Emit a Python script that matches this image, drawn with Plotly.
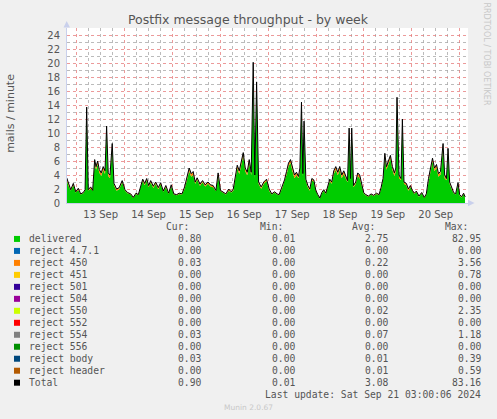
import pandas as pd
import plotly.graph_objects as go

# ---------------- data ----------------
START = "2024-09-13 00:00"
hours = [-5.0, -4.2, -3.0, -1.7, -0.5, 0.8, 2.0, 3.3, 4.2, 5.0, 5.8, 7.0, 8.0, 9.0, 9.7, 10.5, 11.3, 12.3, 13.3, 14.2,
         15.0, 15.8, 16.7, 17.8, 18.7, 20.0, 21.3, 22.8, 24.2, 25.5, 27.1, 28.4, 29.7, 30.9, 32.1, 33.1, 34.1, 35.1, 36.1, 37.1,
         38.4, 39.6, 40.9, 42.1, 43.4, 44.7, 46.1, 47.4, 48.7, 50.1, 51.4, 52.8, 54.1, 55.4, 56.4, 57.4, 58.4, 59.4, 60.4, 61.8,
         63.1, 64.4, 65.8, 67.1, 68.4, 69.8, 70.9, 72.1, 73.4, 74.8, 76.2, 77.5, 78.5, 79.5, 80.5, 81.5, 82.5, 83.5, 84.5, 85.5,
         86.5, 87.5, 88.5, 89.3, 90.2, 91.2, 92.5, 93.8, 95.2, 96.5, 97.8, 99.2, 100.5, 101.5, 102.9, 104.2, 105.2, 106.2, 107.2, 108.2,
         109.2, 110.2, 111.2, 111.9, 112.7, 113.4, 114.0, 114.9, 115.9, 116.9, 117.9, 118.9, 119.9, 120.9, 121.9, 122.9, 123.9, 124.9, 125.9, 126.9,
         127.9, 128.9, 129.9, 130.9, 131.9, 132.9, 133.9, 134.9, 135.8, 136.6, 137.3, 137.9, 138.8, 139.9, 140.9, 141.9, 142.9, 143.9, 144.9, 146.3,
         147.6, 148.9, 150.3, 151.6, 152.6, 153.6, 154.5, 155.3, 156.3, 157.3, 158.3, 159.3, 160.0, 160.6, 161.6, 162.6, 163.3, 164.1, 165.3, 166.3,
         167.3, 168.3, 169.3, 170.3, 171.6, 173.0, 174.3, 175.3, 176.4, 177.4, 178.4, 179.4, 180.4, 181.4, 182.4, 183.7, 184.5, 185.4, 186.2, 187.0,
         188.0, 189.0, 190.0, 191.2, 192.0, 193.0, 194.0, 194.7]

delivered = [3.35, 2.55, 1.8, 2.55, 1.5, 1.85, 1.2, 1.4, 1.8, 13.15, 1.8, 2.05, 1.7, 5.75, 4.75, 5.55, 4.35, 3.85, 4.75, 4.15,
             10.45, 3.85, 3.55, 7.95, 2.55, 1.75, 1.95, 2.95, 1.8, 1.4, 1.2, 0.7, 1.3, 1.1, 2.35, 3.15, 2.55, 3.25, 2.25, 2.95,
             2.15, 2.75, 1.95, 2.65, 1.6, 2.25, 1.3, 2.35, 1.2, 1.1, 1.3, 1.2, 2.05, 3.55, 4.55, 3.75, 4.05, 2.75, 3.35, 2.45,
             2.95, 2.35, 2.75, 2.35, 2.25, 1.7, 3.85, 1.7, 1.4, 1.2, 1.75, 1.5, 1.75, 3.55, 4.95, 4.15, 5.25, 6.75, 4.55, 3.95,
             5.75, 3.95, 19.55, 3.55, 16.75, 2.75, 2.05, 2.75, 3.15, 1.75, 1.2, 1.5, 1.2, 1.1, 2.05, 3.05, 4.05, 5.25, 5.75, 4.55,
             3.55, 3.95, 3.55, 4.55, 13.85, 3.75, 11.15, 3.15, 2.25, 1.75, 3.25, 3.05, 1.7, 1.1, 0.6, 1.4, 1.8, 1.3, 2.25, 3.15,
             2.75, 4.15, 4.75, 3.95, 4.75, 3.55, 4.15, 3.55, 2.95, 10.15, 3.25, 10.15, 2.25, 2.75, 3.85, 3.55, 2.45, 1.4, 1.1, 0.9,
             1.2, 1.0, 1.3, 1.1, 1.95, 3.25, 6.65, 4.75, 5.55, 6.35, 4.75, 3.85, 4.55, 14.55, 3.55, 3.25, 11.45, 2.75, 2.55, 1.75,
             2.25, 1.7, 1.3, 1.6, 0.9, 1.4, 0.7, 1.2, 3.25, 4.55, 5.95, 4.55, 5.05, 3.75, 4.05, 7.95, 3.55, 3.25, 7.35, 2.75,
             1.95, 1.4, 1.2, 2.65, 1.1, 0.8, 1.3, 0.8]

reject_450 = [0.2, 0.2, 0.08, 0.2, 0.08, 0.2, 0.08, 0.08, 0.08, 0.45, 0.08, 0.2, 0.08, 0.35, 0.35, 0.35, 0.35, 0.35, 0.35, 0.35,
              0.45, 0.35, 0.35, 0.45, 0.2, 0.2, 0.2, 0.2, 0.08, 0.08, 0.08, 0.08, 0.08, 0.08, 0.2, 0.2, 0.2, 0.2, 0.2, 0.2,
              0.2, 0.2, 0.2, 0.2, 0.08, 0.2, 0.08, 0.2, 0.08, 0.08, 0.08, 0.08, 0.2, 0.2, 0.35, 0.35, 0.35, 0.2, 0.2, 0.2,
              0.2, 0.2, 0.2, 0.2, 0.2, 0.08, 0.35, 0.08, 0.08, 0.08, 0.2, 0.08, 0.2, 0.35, 0.35, 0.35, 0.35, 0.35, 0.35, 0.35,
              0.35, 0.35, 0.45, 0.35, 0.45, 0.2, 0.2, 0.2, 0.2, 0.2, 0.08, 0.08, 0.08, 0.08, 0.2, 0.2, 0.35, 0.35, 0.35, 0.35,
              0.35, 0.35, 0.2, 0.35, 0.45, 0.35, 0.45, 0.2, 0.2, 0.2, 0.2, 0.2, 0.08, 0.08, 0.08, 0.08, 0.08, 0.08, 0.2, 0.2,
              0.2, 0.35, 0.35, 0.35, 0.35, 0.35, 0.35, 0.2, 0.2, 0.45, 0.2, 0.45, 0.2, 0.2, 0.35, 0.35, 0.2, 0.08, 0.08, 0.08,
              0.08, 0.08, 0.08, 0.08, 0.2, 0.2, 0.35, 0.35, 0.35, 0.35, 0.35, 0.35, 0.35, 0.45, 0.35, 0.2, 0.45, 0.2, 0.2, 0.2,
              0.2, 0.08, 0.08, 0.08, 0.08, 0.08, 0.08, 0.08, 0.2, 0.35, 0.35, 0.35, 0.35, 0.35, 0.35, 0.45, 0.35, 0.2, 0.35, 0.2,
              0.2, 0.08, 0.08, 0.2, 0.08, 0.08, 0.08, 0.08]

reject_554 = [0.05, 0.05, 0.02, 0.05, 0.02, 0.05, 0.02, 0.02, 0.02, 0.1, 0.02, 0.05, 0.02, 0.1, 0.1, 0.1, 0.1, 0.1, 0.1, 0.1,
              0.1, 0.1, 0.1, 0.1, 0.05, 0.05, 0.05, 0.05, 0.02, 0.02, 0.02, 0.02, 0.02, 0.02, 0.05, 0.05, 0.05, 0.05, 0.05, 0.05,
              0.05, 0.05, 0.05, 0.05, 0.02, 0.05, 0.02, 0.05, 0.02, 0.02, 0.02, 0.02, 0.05, 0.05, 0.1, 0.1, 0.1, 0.05, 0.05, 0.05,
              0.05, 0.05, 0.05, 0.05, 0.05, 0.02, 0.1, 0.02, 0.02, 0.02, 0.05, 0.02, 0.05, 0.1, 0.1, 0.1, 0.1, 0.1, 0.1, 0.1,
              0.1, 0.1, 0.1, 0.1, 0.1, 0.05, 0.05, 0.05, 0.05, 0.05, 0.02, 0.02, 0.02, 0.02, 0.05, 0.05, 0.1, 0.1, 0.1, 0.1,
              0.1, 0.1, 0.05, 0.1, 0.1, 0.1, 0.1, 0.05, 0.05, 0.05, 0.05, 0.05, 0.02, 0.02, 0.02, 0.02, 0.02, 0.02, 0.05, 0.05,
              0.05, 0.1, 0.1, 0.1, 0.1, 0.1, 0.1, 0.05, 0.05, 0.1, 0.05, 0.1, 0.05, 0.05, 0.1, 0.1, 0.05, 0.02, 0.02, 0.02,
              0.02, 0.02, 0.02, 0.02, 0.05, 0.05, 0.1, 0.1, 0.1, 0.1, 0.1, 0.1, 0.1, 0.1, 0.1, 0.05, 0.1, 0.05, 0.05, 0.05,
              0.05, 0.02, 0.02, 0.02, 0.02, 0.02, 0.02, 0.02, 0.05, 0.1, 0.1, 0.1, 0.1, 0.1, 0.1, 0.1, 0.1, 0.05, 0.1, 0.05,
              0.05, 0.02, 0.02, 0.05, 0.02, 0.02, 0.02, 0.02]

legend_names = ["delivered", "reject 4.7.1", "reject 450", "reject 451", "reject 501", "reject 504",
                "reject 550", "reject 552", "reject 554", "reject 556", "reject body", "reject header", "Total"]
legend_colors = ["#00CC00", "#0066B3", "#FF8000", "#FFCC00", "#330099", "#990099",
                 "#CCFF00", "#FF0000", "#808080", "#008F00", "#00487D", "#B35A00", "#000000"]
cur_vals = ["0.80", "0.00", "0.03", "0.00", "0.00", "0.00", "0.00", "0.00", "0.03", "0.00", "0.03", "0.00", "0.90"]
min_vals = ["0.01", "0.00", "0.00", "0.00", "0.00", "0.00", "0.00", "0.00", "0.00", "0.00", "0.00", "0.00", "0.01"]
avg_vals = ["2.75", "0.00", "0.22", "0.00", "0.00", "0.00", "0.02", "0.00", "0.07", "0.00", "0.01", "0.01", "3.08"]
max_vals = ["82.95", "0.00", "3.56", "0.78", "0.00", "0.00", "2.35", "0.00", "1.18", "0.00", "0.39", "0.59", "83.16"]
col_headers = ["Cur:", "Min:", "Avg:", "Max:"]

TITLE = "Postfix message throughput - by week"
Y_LABEL = "mails / minute"
LAST_UPDATE = "Last update: Sat Sep 21 03:00:06 2024"
VERSION = "Munin 2.0.67"
WATERMARK = "RRDTOOL / TOBI OETIKER"

# ---------------- figure ----------------
W, H = 497, 419
L, R, T, B = 67, 29, 28, 215.7
PW, PH = W - L - R, H - T - B
Y0 = H - B

def px(x):
    return (x - L) / PW

def py(y):
    return (Y0 - y) / PH

times = pd.Timestamp(START) + pd.to_timedelta(hours, unit="h")
total = [d + a + b for d, a, b in zip(delivered, reject_450, reject_554)]

fig = go.Figure()
for name, vals, col in [("delivered", delivered, legend_colors[0]),
                        ("reject 450", reject_450, legend_colors[2]),
                        ("reject 554", reject_554, legend_colors[8])]:
    fig.add_trace(go.Scatter(x=times, y=vals, name=name, stackgroup="s", mode="lines",
                             line=dict(width=0, color=col), fillcolor=col, showlegend=False))
fig.add_trace(go.Scatter(x=times, y=total, name="Total", mode="lines",
                         line=dict(width=1, color="#000000"), showlegend=False))

grid_red = "rgba(230,120,120,0.75)"
grid_gray = "rgba(170,170,170,0.8)"
axis_col = "#C9D0EC"
txt = "#555555"

fig.update_layout(
    width=W, height=H, margin=dict(l=L, r=R, t=T, b=B),
    paper_bgcolor="#F0F0F0", plot_bgcolor="#FFFFFF",
    font=dict(family="DejaVu Sans", size=10, color=txt),
    xaxis=dict(type="date", range=["2024-09-12 19:08", "2024-09-21 04:12"],
               tick0="2024-09-13", dtick=86400000, tickformat="%d %b", ticklabelmode="period",
               showgrid=True, gridcolor=grid_red, griddash="dot", gridwidth=1,
               minor=dict(dtick=6 * 3600000, showgrid=True, gridcolor=grid_gray, griddash="dot", gridwidth=1),
               ticks="outside", ticklen=2, tickcolor="rgba(0,0,0,0)",
               showline=True, linecolor=axis_col, linewidth=1, zeroline=False,
               tickfont=dict(size=10, color=txt)),
    yaxis=dict(range=[0, 25], tick0=0, dtick=2,
               showgrid=True, gridcolor=grid_red, griddash="dot", gridwidth=1,
               minor=dict(dtick=1, showgrid=True, gridcolor=grid_gray, griddash="dot", gridwidth=1),
               ticks="outside", ticklen=4, tickcolor="rgba(0,0,0,0)",
               showline=True, linecolor=axis_col, linewidth=1, zeroline=False,
               tickfont=dict(size=10, color=txt)),
)

ann = []
ann.append(dict(text=TITLE, x=px(248), y=py(19), xref="paper", yref="paper", showarrow=False,
                xanchor="center", yanchor="middle", font=dict(family="DejaVu Sans", size=12.5, color=txt)))
ann.append(dict(text=Y_LABEL, x=px(11), y=py(114), xref="paper", yref="paper", showarrow=False, textangle=-90,
                xanchor="center", yanchor="middle", font=dict(family="DejaVu Sans", size=11, color=txt)))
ann.append(dict(text=WATERMARK, x=px(486.5), y=py(54), xref="paper", yref="paper", showarrow=False, textangle=90,
                xanchor="center", yanchor="middle", font=dict(family="DejaVu Sans", size=8, color="#C8C8C8")))

mono = dict(family="DejaVu Sans Mono", size=9.7, color=txt)
hdr_right = [190.5, 284.5, 377, 470.5]
val_right = [203, 297, 389.5, 482.5]
for hx, h in zip(hdr_right, col_headers):
    ann.append(dict(text=h, x=px(hx), y=py(227.3), xref="paper", yref="paper", showarrow=False,
                    xanchor="right", yanchor="middle", font=mono))
shapes = []
for i, name in enumerate(legend_names):
    yc = 239.3 + 12 * i
    shapes.append(dict(type="rect", xref="paper", yref="paper", x0=px(14), x1=px(20), y0=py(yc + 3), y1=py(yc - 3),
                       fillcolor=legend_colors[i], line=dict(width=0)))
    ann.append(dict(text=name, x=px(26.5), y=py(yc), xref="paper", yref="paper", showarrow=False,
                    xanchor="left", yanchor="middle", font=mono))
    for xr, vals in zip(val_right, [cur_vals, min_vals, avg_vals, max_vals]):
        ann.append(dict(text=vals[i], x=px(xr), y=py(yc), xref="paper", yref="paper", showarrow=False,
                        xanchor="right", yanchor="middle", font=mono))
ann.append(dict(text=LAST_UPDATE, x=px(482.5), y=py(395.3), xref="paper", yref="paper", showarrow=False,
                xanchor="right", yanchor="middle", font=mono))
ann.append(dict(text=VERSION, x=px(248), y=py(408), xref="paper", yref="paper", showarrow=False,
                xanchor="center", yanchor="middle", font=dict(family="DejaVu Sans", size=7.5, color="#C8C8C8")))

# axis arrows
shapes.append(dict(type="path", xref="paper", yref="paper",
                   path=f"M {px(63.5)} {py(27.5)} L {px(70)} {py(27.5)} L {px(66.7)} {py(21)} Z",
                   fillcolor=axis_col, line=dict(width=0)))
shapes.append(dict(type="path", xref="paper", yref="paper",
                   path=f"M {px(468)} {py(200)} L {px(468)} {py(206.6)} L {px(474.5)} {py(203.3)} Z",
                   fillcolor=axis_col, line=dict(width=0)))

fig.update_layout(annotations=ann, shapes=shapes)
fig.write_html("out.html", config={"displayModeBar": False},
               post_script="document.body.style.margin='0';document.body.style.background='#F0F0F0';")
